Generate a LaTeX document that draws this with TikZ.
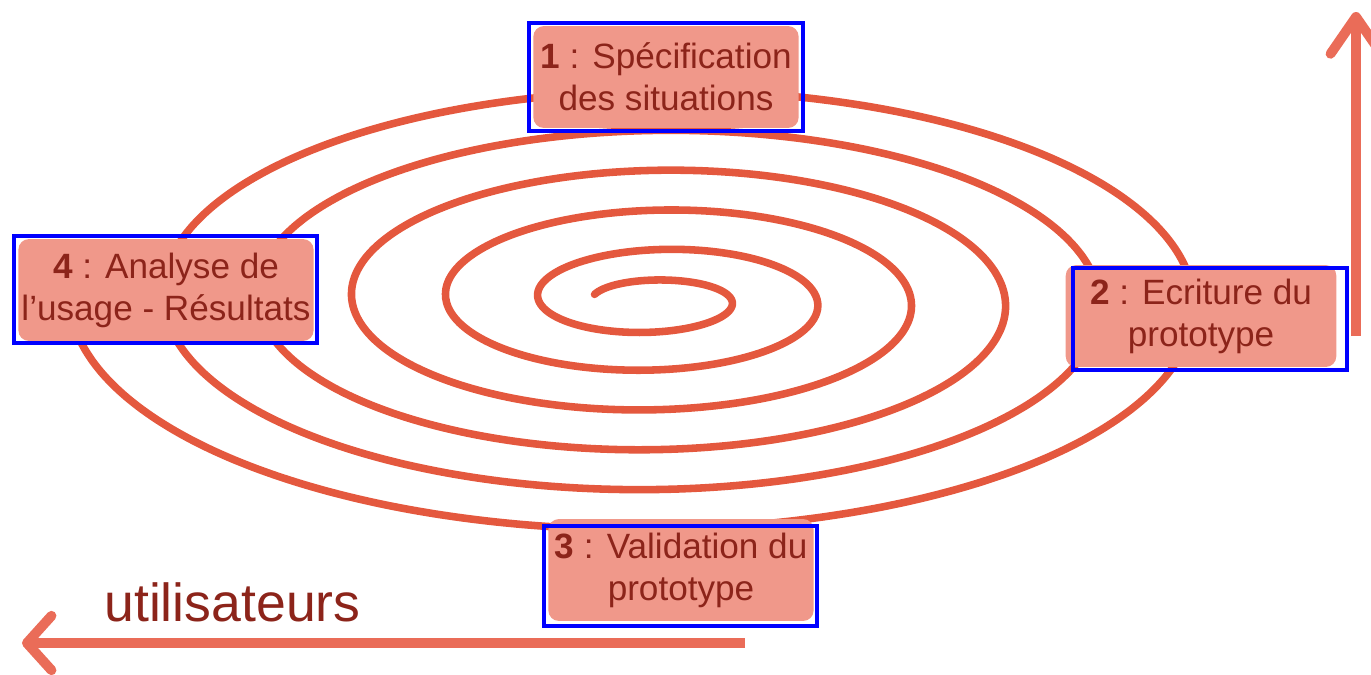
\documentclass[tikz,border=0pt]{standalone}
\usepackage{fontspec}
\setmainfont{Liberation Sans}
\usepackage{tikz}
\usetikzlibrary{arrows.meta}
\definecolor{spiralred}{RGB}{228, 88, 62}
\definecolor{arrowred}{RGB}{234, 108, 88}
\definecolor{boxsalmon}{RGB}{240, 152, 138}
\definecolor{textbrown}{RGB}{140, 36, 26}
\definecolor{frameblue}{RGB}{0, 0, 255}

\begin{document}
\begin{tikzpicture}[x=0.02cm, y=-0.02cm,
    stagebox/.style={rectangle, rounded corners=6pt, fill=boxsalmon, text=textbrown, align=center, inner sep=0pt, minimum height=58pt, font=\fontsize{20}{24}\selectfont},
    blueframe/.style={draw=frameblue, line width=2.3pt},
    spiral/.style={draw=spiralred, line width=4.3pt, line cap=round},
    bigarr/.style={draw=arrowred, line width=5.6pt}
  ]
    \useasboundingbox (0,0) rectangle (1371,674);
    % spiral, inner end first
    \draw[spiral] plot[domain=-1.3:36.3, samples=700, smooth, variable=\t]
      ({655+(44+15*\t+20*exp(-\t/2))*sin(\t r)}, {300-(10+6.35*\t+10*exp(-\t/2))*cos(\t r)});

    \node[stagebox, minimum width=151pt] (spec) at (666,77) {\textbf{1} : Spécification\\des situations};
    \node[stagebox, minimum width=154pt] (ecrit) at (1201,316) {\textbf{2} : Ecriture du\\prototype};
    \node[stagebox, minimum width=151pt] (valid) at (681,570) {\textbf{3} : Validation du\\prototype};
    \node[stagebox, minimum width=168pt] (analyse) at (166,290) {\textbf{4} : Analyse de\\l’usage - Résultats};

    \draw[blueframe] ([shift={(-4,-3)}]spec.north west) rectangle ([shift={(4,3)}]spec.south east);
    \draw[blueframe] ([shift={(8,3)}]ecrit.north west) rectangle ([shift={(10,3)}]ecrit.south east);
    \draw[blueframe] ([shift={(-4,7)}]valid.north west) rectangle ([shift={(3,5)}]valid.south east);
    \draw[blueframe] ([shift={(-4,-3)}]analyse.north west) rectangle ([shift={(3,2)}]analyse.south east);

    \coordinate (upbase) at (1356,336);
    \coordinate (uptip) at (1356,12);
    \coordinate (userend) at (745,643);
    \coordinate (usertip) at (22,643);
    \draw[bigarr, -{Straight Barb[length=21pt, width=29pt, round]}] (upbase) -- (uptip);
    \draw[bigarr, -{Straight Barb[length=14pt, width=31pt, round]}] (userend) -- (usertip);
    \node[anchor=base west, text=textbrown, inner sep=0pt, font=\fontsize{30.5}{34}\selectfont] (users) at (104,621) {utilisateurs};
  \end{tikzpicture}
\end{document}
